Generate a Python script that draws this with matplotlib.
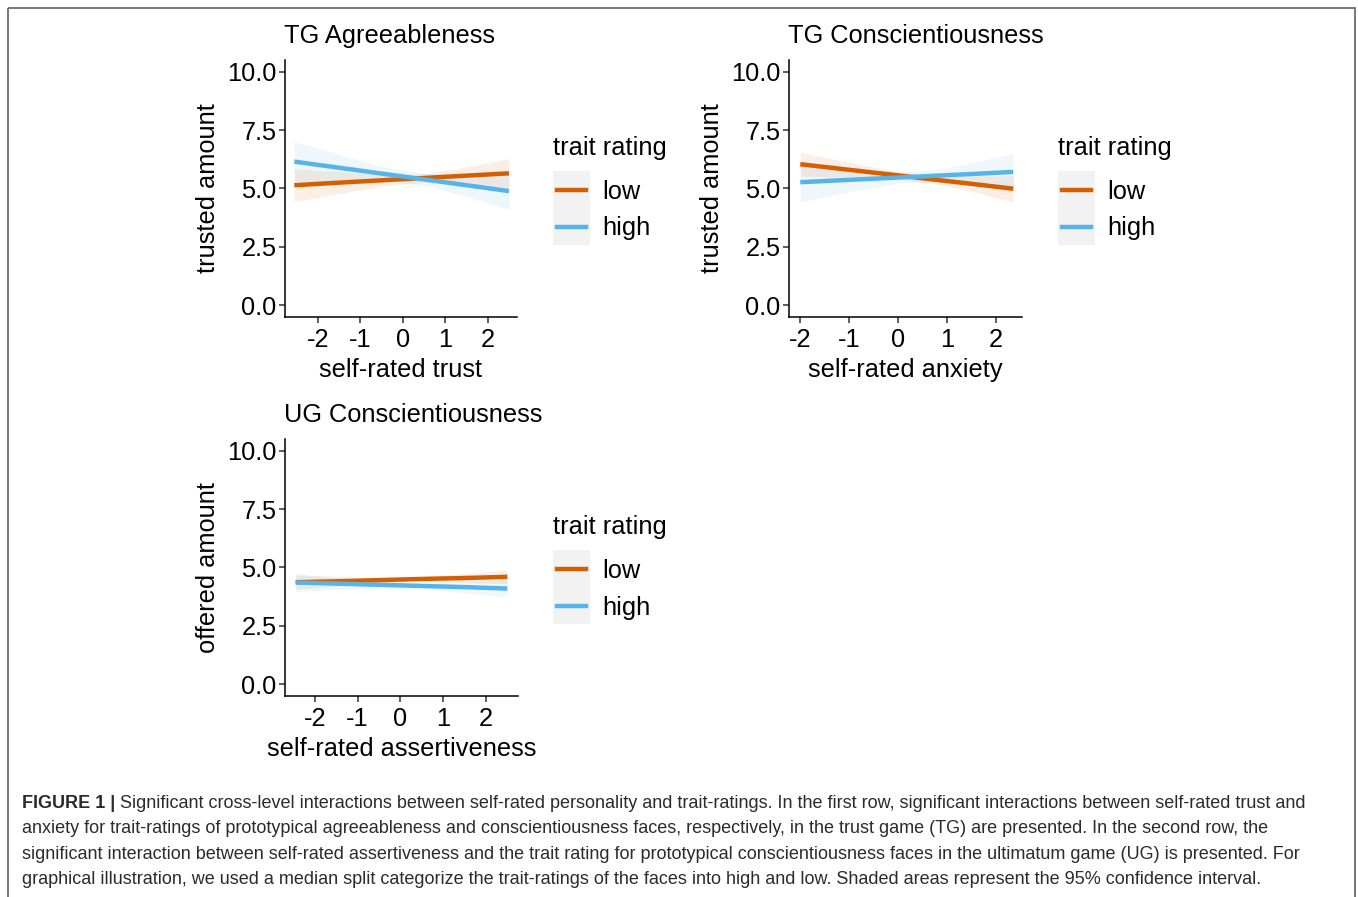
import matplotlib
matplotlib.use("Agg")
import matplotlib.pyplot as plt
from matplotlib.transforms import Affine2D
from matplotlib.patches import Rectangle
from matplotlib.lines import Line2D

plt.rcParams["font.family"] = ["Liberation Sans", "DejaVu Sans"]

W, H = 1358, 897
ORANGE = "#D55E00"
BLUE = "#56B4E9"
FS = 18.3

# ── data (fit line + 95% CI band) ────────────────────────────────────
tg_agree_x = [-2.55, -1.5, -0.5, 0.5, 1.5, 2.5]
tg_agree_low_fit = [5.14, 5.25, 5.35, 5.45, 5.55, 5.65]
tg_agree_low_lo = [4.44, 4.78, 5.10, 5.26, 5.19, 5.02]
tg_agree_low_hi = [5.84, 5.72, 5.60, 5.64, 5.91, 6.28]
tg_agree_high_fit = [6.15, 5.89, 5.64, 5.39, 5.14, 4.89]
tg_agree_high_lo = [5.29, 5.31, 5.34, 5.14, 4.66, 4.09]
tg_agree_high_hi = [7.01, 6.47, 5.94, 5.64, 5.62, 5.69]

tg_consc_x = [-2.0, -1.0, 0.0, 0.7, 1.5, 2.35]
tg_consc_low_fit = [6.04, 5.80, 5.56, 5.39, 5.20, 4.99]
tg_consc_low_lo = [5.53, 5.48, 5.40, 5.22, 4.87, 4.43]
tg_consc_low_hi = [6.55, 6.12, 5.72, 5.56, 5.53, 5.55]
tg_consc_high_fit = [5.27, 5.37, 5.47, 5.54, 5.62, 5.71]
tg_consc_high_lo = [4.43, 4.87, 5.23, 5.29, 5.14, 4.91]
tg_consc_high_hi = [6.11, 5.87, 5.71, 5.79, 6.10, 6.51]

ug_consc_x = [-2.45, -1.5, -0.5, 0.5, 1.5, 2.5]
ug_consc_low_fit = [4.37, 4.41, 4.46, 4.51, 4.55, 4.60]
ug_consc_low_lo = [4.06, 4.20, 4.35, 4.41, 4.36, 4.31]
ug_consc_low_hi = [4.68, 4.62, 4.57, 4.61, 4.74, 4.89]
ug_consc_high_fit = [4.36, 4.31, 4.26, 4.21, 4.16, 4.10]
ug_consc_high_lo = [3.98, 4.05, 4.12, 4.08, 3.92, 3.74]
ug_consc_high_hi = [4.74, 4.57, 4.40, 4.34, 4.40, 4.46]

y_ticks = [0.0, 2.5, 5.0, 7.5, 10.0]
x_ticks = [-2, -1, 0, 1, 2]
legend_title = "trait rating"
legend_labels = ["low", "high"]

caption_bold = "FIGURE 1 |"
caption_lines = [
    " Significant cross-level interactions between self-rated personality and trait-ratings. "
    "In the first row, significant interactions between self-rated trust and",
    "anxiety for trait-ratings of prototypical agreeableness and conscientiousness faces, "
    "respectively, in the trust game (TG) are presented. In the second row, the",
    "significant interaction between self-rated assertiveness and the trait rating for "
    "prototypical conscientiousness faces in the ultimatum game (UG) is presented. For",
    "graphical illustration, we used a median split categorize the trait-ratings of the faces "
    "into high and low. Shaded areas represent the 95% confidence interval.",
]

fig = plt.figure(figsize=(W / 100, H / 100), dpi=100)
# pixel transform, origin top-left
px = Affine2D().scale(1 / W, -1 / H).translate(0, 1) + fig.transFigure

# outer frame of the figure box
fig.patches.append(Rectangle((8, 8), 1347, 900, transform=px, fill=False,
                             edgecolor="#6b6b6b", lw=1.3))


def add_panel(left, right, top, bottom, xlim, title, xlabel, ylabel, x,
              low, high, leg_x, leg_y):
    ax = fig.add_axes([left / W, 1 - bottom / H, (right - left) / W,
                       (bottom - top) / H])
    for (fit, lo, hi), col in zip([low, high], [ORANGE, BLUE]):
        ax.fill_between(x, lo, hi, color=col, alpha=0.1, lw=0)
    for (fit, lo, hi), col in zip([low, high], [ORANGE, BLUE]):
        ax.plot(x, fit, color=col, lw=3.2, solid_capstyle="butt")
    ax.set_xlim(*xlim)
    ax.set_ylim(-0.5, 10.5)
    ax.set_yticks(y_ticks)
    ax.set_yticklabels([f"{v:.1f}" for v in y_ticks])
    ax.set_xticks(x_ticks)
    ax.set_xticklabels([str(v) for v in x_ticks])
    for s in ["top", "right"]:
        ax.spines[s].set_visible(False)
    for s in ["left", "bottom"]:
        ax.spines[s].set_linewidth(1.1)
    ax.tick_params(labelsize=FS, length=4, width=1.1, colors="#333333",
                   labelcolor="black")
    ax.tick_params(axis="x", pad=4)
    ax.tick_params(axis="y", pad=2)
    ax.set_xlabel(xlabel, fontsize=FS, labelpad=4)
    ax.set_ylabel(ylabel, fontsize=FS, labelpad=5)
    ax.set_title(title, fontsize=FS, loc="left", pad=12, x=-0.005)

    # legend drawn by hand (ggplot style)
    fig.text(leg_x / W, 1 - leg_y / H, legend_title, fontsize=FS,
             va="center", ha="left")
    key_top = leg_y + 23
    fig.patches.append(Rectangle((leg_x, key_top), 37, 74, transform=px,
                                 facecolor="#F2F2F2", edgecolor="none"))
    for i, (lab, col) in enumerate(zip(legend_labels, [ORANGE, BLUE])):
        yc = key_top + 19 + 37 * i
        fig.lines.append(Line2D([leg_x + 4, leg_x + 33], [yc, yc],
                                transform=px, color=col, lw=3.2))
        fig.text((leg_x + 49) / W, 1 - (yc + 1.5) / H, lab, fontsize=FS,
                 va="center", ha="left")
    return ax


add_panel(285, 517, 60, 317, (-2.77, 2.69), "TG Agreeableness",
          "self-rated trust", "trusted amount", tg_agree_x,
          (tg_agree_low_fit, tg_agree_low_lo, tg_agree_low_hi),
          (tg_agree_high_fit, tg_agree_high_lo, tg_agree_high_hi), 553, 148)
add_panel(789, 1022, 60, 317, (-2.23, 2.53), "TG Conscientiousness",
          "self-rated anxiety", "trusted amount", tg_consc_x,
          (tg_consc_low_fit, tg_consc_low_lo, tg_consc_low_hi),
          (tg_consc_high_fit, tg_consc_high_lo, tg_consc_high_hi), 1058, 148)
add_panel(285, 518, 439, 696, (-2.70, 2.75), "UG Conscientiousness",
          "self-rated assertiveness", "offered amount", ug_consc_x,
          (ug_consc_low_fit, ug_consc_low_lo, ug_consc_low_hi),
          (ug_consc_high_fit, ug_consc_high_lo, ug_consc_high_hi), 553, 527)

# ── caption ───────────────────────────────────────────────────────────
cap_font = ["Liberation Sans Narrow", "Liberation Sans", "DejaVu Sans"]
cap_color = "#2b2b2b"
line_y = [803, 828, 854, 879]
fig.canvas.draw()
renderer = fig.canvas.get_renderer()
tb = fig.text(22 / W, 1 - line_y[0] / H, caption_bold, fontsize=13,
              fontweight="bold", family=cap_font, color=cap_color, va="center")
bb = tb.get_window_extent(renderer)
fig.text(bb.x1 / W, 1 - line_y[0] / H, caption_lines[0], fontsize=13,
         family=cap_font, color=cap_color, va="center")
for yy, line in zip(line_y[1:], caption_lines[1:]):
    fig.text(22 / W, 1 - yy / H, line, fontsize=13, family=cap_font,
             color=cap_color, va="center")

fig.savefig("out.png", dpi=100)
